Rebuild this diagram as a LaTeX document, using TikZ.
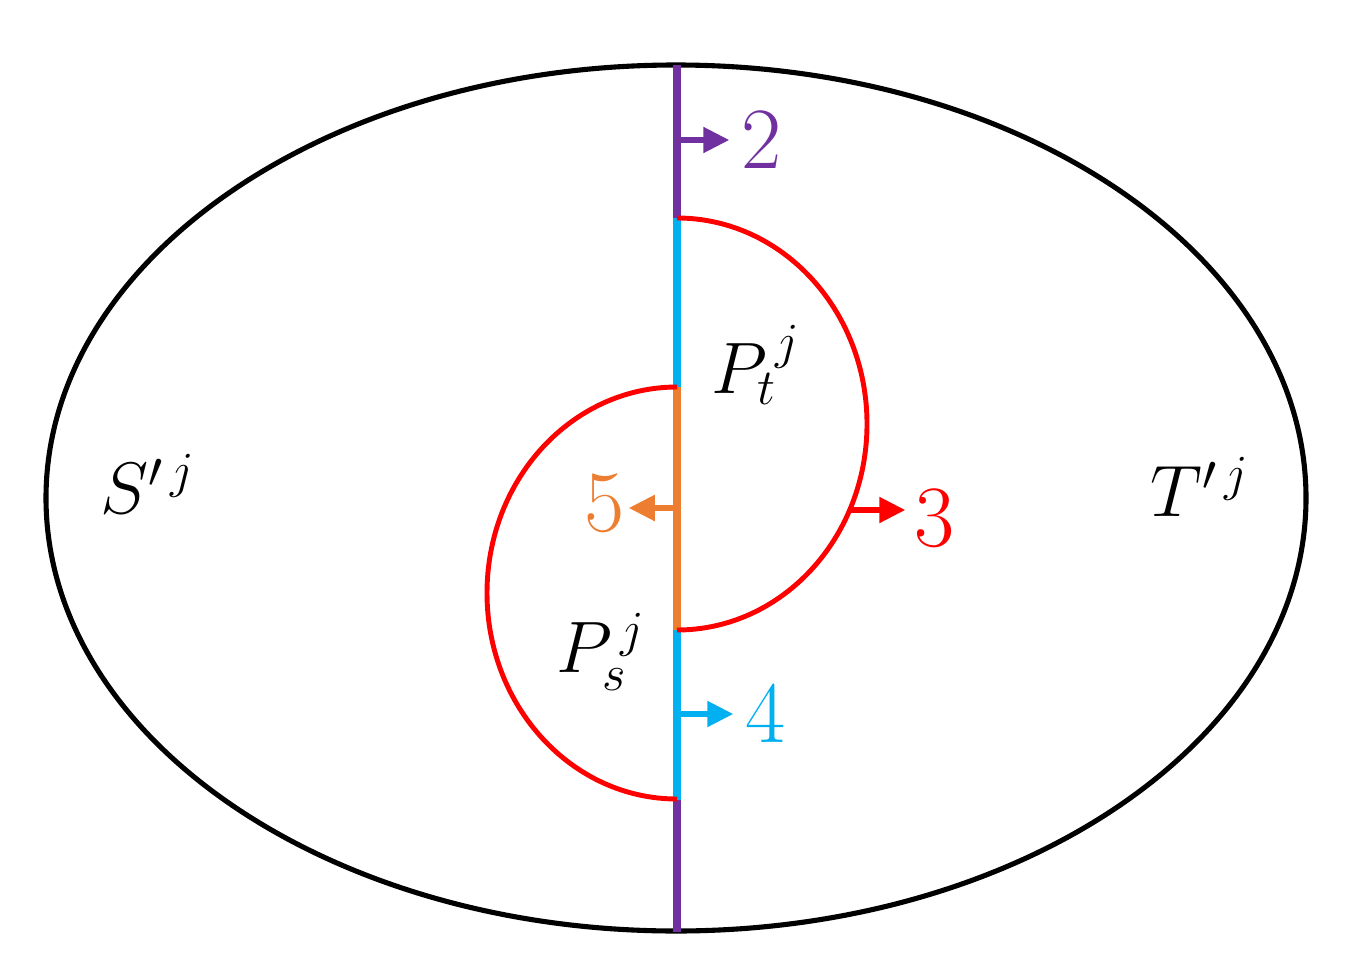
\documentclass[tikz,border=0pt]{standalone}
\usetikzlibrary{arrows.meta}
\definecolor{cutpurple}{HTML}{7030A0}
\definecolor{cutcyan}{HTML}{00B0F0}
\definecolor{cutorange}{HTML}{ED7D31}
\definecolor{cutred}{HTML}{FF0000}
\tikzset{
  seg/.style={line width=2.3pt},
  pathline/.style={cutred, line width=1.4pt},
  push/.style={line width=1.5pt, -{Triangle[length=2.6mm,width=2.5mm]}},
  num/.style={font=\fontsize{23}{28}\selectfont, inner sep=0pt},
  setname/.style={font=\fontsize{21}{25}\selectfont, inner sep=0pt}
}

\begin{document}
\begin{tikzpicture}[x=0.1mm,y=0.1mm]
\useasboundingbox (0,0) rectangle (1356,974);
\draw[black, line width=1.45pt] (676,476) ellipse (630 and 433);
\coordinate (top) at (677,909);
\coordinate (tA) at (677,756);
\coordinate (sA) at (677,587);
\coordinate (tB) at (677,344);
\coordinate (sB) at (677,174);
\coordinate (bot) at (677,42);
\draw[seg, cutpurple] (top) -- (tA);
\draw[seg, cutcyan] (tA) -- (sA);
\draw[seg, cutorange] (sA) -- (tB);
\draw[seg, cutcyan] (tB) -- (sB);
\draw[seg, cutpurple] (sB) -- (bot);
\draw[pathline] (tA) arc[start angle=90, end angle=-90, x radius=190, y radius=206];
\draw[pathline] (sA) arc[start angle=90, end angle=270, x radius=190, y radius=206];
\node[setname] (sj) at (148,490) {$S'^{\,j}$};
\node[setname] (tj) at (1200,487) {$T'^{\,j}$};
\node[setname] (pt) at (756,609) {$P_t^{\,j}$};
\node[setname] (ps) at (601,322) {$P_s^{\,j}$};
\node[num, cutpurple] (n2) at (762,834) {$2$};
\node[num, cutred] (n3) at (935,456) {$3$};
\node[num, cutcyan] (n4) at (766,260) {$4$};
\node[num, cutorange] (n5) at (605,471) {$5$};
\coordinate (a2) at (679,834);
\coordinate (a3) at (850,464);
\coordinate (a4) at (679,260);
\coordinate (a5) at (675,466);
\draw[push, cutpurple, shorten >=1.2mm] (a2) -- (a2 -| n2.west);
\draw[push, cutred, shorten >=0.9mm] (a3) -- (a3 -| n3.west);
\draw[push, cutcyan, shorten >=1.2mm] (a4) -- (a4 -| n4.west);
\draw[push, cutorange, shorten >=0.3mm] (a5) -- (a5 -| n5.east);
\end{tikzpicture}
\end{document}
